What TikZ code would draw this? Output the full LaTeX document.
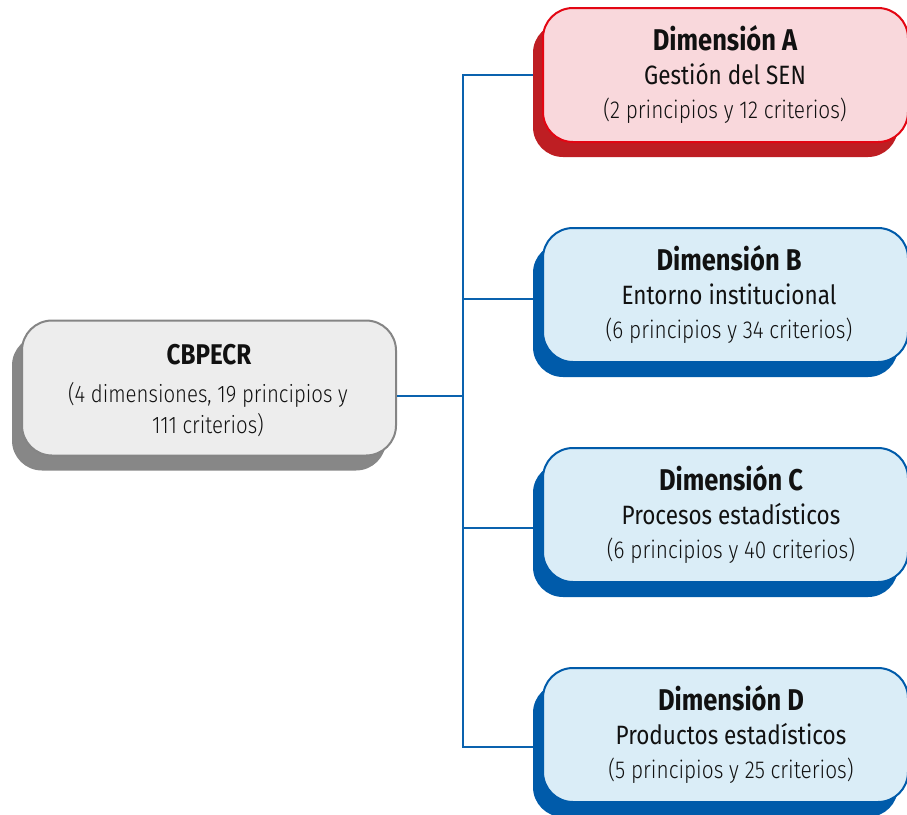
\documentclass[tikz,border=0pt]{standalone}
\usepackage{fontspec}
\setmainfont{Fira Sans}[FakeStretch=0.85]
\newfontfamily\lightfont{Fira Sans Light}[FakeStretch=0.85]
\definecolor{grayborder}{HTML}{858585}
\definecolor{grayfill}{HTML}{EDEDED}
\definecolor{grayshadow}{HTML}{878787}
\definecolor{redborder}{HTML}{E30613}
\definecolor{redfill}{HTML}{F9D8DC}
\definecolor{redshadow}{HTML}{BE1E23}
\definecolor{blueborder}{HTML}{005BAA}
\definecolor{bluefill}{HTML}{DAEDF7}
\definecolor{blueshadow}{HTML}{005BAA}
\definecolor{conncol}{HTML}{0A62AE}
\definecolor{txt}{HTML}{111111}
\tikzset{
  boxshape/.style={rectangle, rounded corners=30pt, inner sep=0pt},
  dimbox/.style={boxshape, minimum width=365pt, minimum height=134pt},
  rootbox/.style={boxshape, minimum width=374pt, minimum height=135pt},
  redbox/.style={draw=redborder, fill=redfill, line width=2pt},
  bluebox/.style={draw=blueborder, fill=bluefill, line width=2pt},
  graybox/.style={draw=grayborder, fill=grayfill, line width=2pt},
  ttl/.style={anchor=base, inner sep=0pt, text=txt, font=\fontsize{30}{33}\selectfont\bfseries},
  rttl/.style={anchor=base, inner sep=0pt, text=txt, font=\fontsize{28.5}{31}\selectfont\bfseries},
  sub/.style={anchor=base, inner sep=0pt, text=txt, font=\fontsize{26.5}{29}\selectfont},
  par/.style={anchor=base, inner sep=0pt, text=txt, font=\fontsize{24.5}{27}\selectfont\lightfont},
  rpar/.style={anchor=base, inner sep=0pt, text=txt, font=\fontsize{24}{27}\selectfont\lightfont},
  conn/.style={draw=conncol, line width=2pt},
}
\begin{document}
\begin{tikzpicture}[x=1pt,y=-1pt]
\useasboundingbox (0,0) rectangle (907,814);
\clip (0,0) rectangle (907,814);
% shadows
\node[dimbox, fill=redshadow] (As) at (715.5,90) {};
\node[dimbox, fill=blueshadow] (Bs) at (715.5,310) {};
\node[dimbox, fill=blueshadow] (Cs) at (715.5,530) {};
\node[dimbox, fill=blueshadow] (Ds) at (715.5,750) {};
\node[rootbox, fill=grayshadow] (Rs) at (199,403) {};
% main boxes
\node[dimbox, redbox] (A) at (725.5,75) {};
\node[dimbox, bluebox] (B) at (725.5,295) {};
\node[dimbox, bluebox] (C) at (725.5,515) {};
\node[dimbox, bluebox] (D) at (725.5,735) {};
\node[rootbox, graybox] (R) at (209,388) {};
% texts
\node[rttl] (Rt) at (209,364) {CBPECR};
\node[rpar] (R2) at (208,402) {(4 dimensiones, 19 principios y};
\node[rpar] (R3) at (208,433) {111 criterios)};
\node[ttl] (At) at (725,50) {Dimensión A};
\node[sub] (A2) at (725,84) {Gestión del SEN};
\node[par] (A3) at (725,118) {(2 principios y 12 criterios)};
\node[ttl] (Bt) at (729,270) {Dimensión B};
\node[sub] (B2) at (729,304) {Entorno institucional};
\node[par] (B3) at (729,338) {(6 principios y 34 criterios)};
\node[ttl] (Ct) at (731,490) {Dimensión C};
\node[sub] (C2) at (731,524) {Procesos estadísticos};
\node[par] (C3) at (731,558) {(6 principios y 40 criterios)};
\node[ttl] (Dt) at (731,710) {Dimensión D};
\node[sub] (D2) at (731,744) {Productos estadísticos};
\node[par] (D3) at (731,778) {(5 principios y 25 criterios)};
% connectors
\coordinate (j0) at (463,396);
\coordinate (jA) at (463,75);
\coordinate (jB) at (463,299);
\coordinate (jC) at (463,528);
\coordinate (jD) at (463,747);
\draw[conn] (jA -| As.west) -- (jA) -- (jD) -- (jD -| Ds.west);
\draw[conn] (jB) -- (jB -| Bs.west);
\draw[conn] (jC) -- (jC -| Cs.west);
\draw[conn] (R.east |- j0) -- (j0);
\end{tikzpicture}
\end{document}
